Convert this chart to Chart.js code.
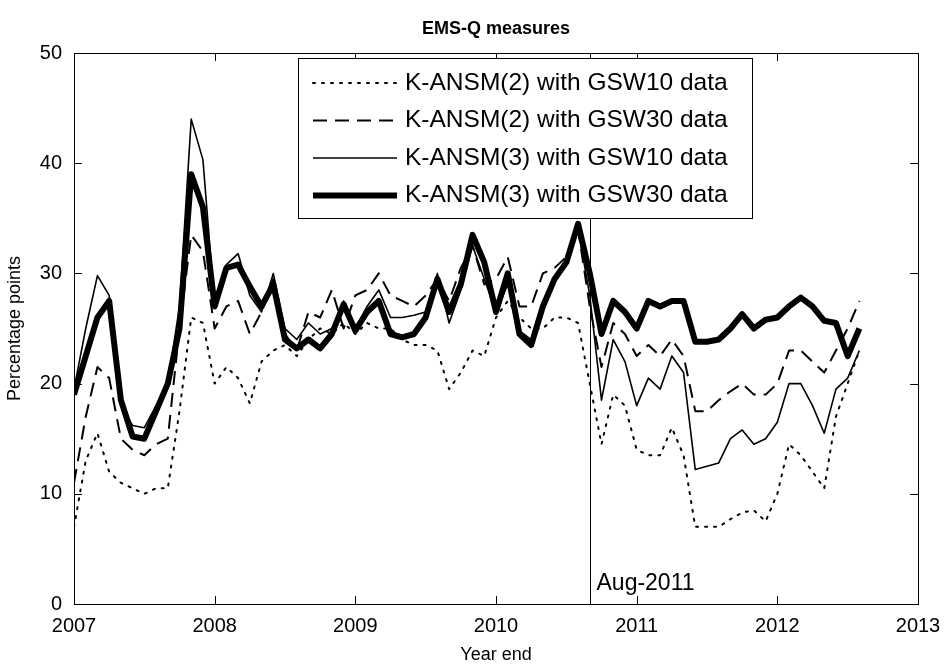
<!DOCTYPE html>
<html>
<head>
<meta charset="utf-8">
<script src="https://cdn.jsdelivr.net/npm/chart.js@4"></script>
<style>body{margin:0;background:#fff}</style>
</head>
<body>
<canvas id="c" width="945" height="670"></canvas>
<script>
// monthly observations, Jan 2007 .. Aug 2012
const startYear = 2007;
const k2gsw10 = [7,13,15.5,12,11,10.5,10,10.5,10.5,17.5,26,25.5,20,21.5,20.5,18.2,22,23,23.5,22.5,24,25,24.5,25.5,24.5,25.5,25,25,24,23.5,23.5,23,19.5,21,23,22.5,26,27.5,26,25,25,26,26,25.5,20,14.5,19,18,14,13.5,13.5,16,13.5,7,7,7,7.7,8.3,8.5,7.5,10,14.5,13.5,12,10.5,17,20,23];
const k2gsw30 = [11,17,21.5,20.5,15,14,13.5,14.5,15,25,33.5,32,25,27,27.5,24.5,26.5,29.5,24.5,23,26.5,26,28.5,25,28,28.5,30,28,27.5,27,28,29.5,27.5,30.5,32.5,29,29.5,31.5,27,27,30,30.5,31.5,34,27,21.5,25.5,24.5,22.5,23.5,22.5,24,22.5,17.5,17.5,18.5,19.3,20,19,19,20,23,23,22,21,23,25,27.5];
const k3gsw10 = [19.5,25,29.8,28,18,16.2,16,18,20,27,44,40.3,27,30.8,31.8,28,26.5,30,25,24,25.5,24.5,25,27.5,25,27,28.5,26,26,26.2,26.5,30,25.5,28.5,32.5,29.5,26.5,29,24.8,24,27.5,29.5,31,34,28,18.5,24,22,18,20.5,19.5,22.5,21,12.2,12.5,12.8,15,15.8,14.5,15,16.5,20,20,18,15.5,19.5,20.5,23];
const k3gsw30 = [19,22.5,26,27.5,18.5,15.2,15,17.5,20,25,39,36,27,30.5,30.8,28.8,27,29,24,23.2,24,23.2,24.5,27.2,24.8,26.5,27.5,24.5,24.2,24.5,26,29.5,26.5,29,33.5,31,26.5,30,24.5,23.5,27,29.5,31,34.5,30,24.5,27.5,26.5,25,27.5,27,27.5,27.5,23.8,23.8,24,25,26.3,25,25.8,26,27,27.8,27,25.7,25.5,22.5,25];
const seriesNames = ['K-ANSM(2) with GSW10 data','K-ANSM(2) with GSW30 data','K-ANSM(3) with GSW10 data','K-ANSM(3) with GSW30 data'];
const markerDate = 2010 + 8/12;
const markerLabel = 'Aug-2011';
const xTicks = [2007,2008,2009,2010,2011,2012,2013];
const yTicks = [0,10,20,30,40,50];

const pts = arr => arr.map((v, i) => ({x: startYear + i / 12, y: v}));
const styles = [
  {borderWidth: 2, borderDash: [2, 7], borderCapStyle: 'round'},
  {borderWidth: 2, borderDash: [14, 8]},
  {borderWidth: 1.6, borderDash: []},
  {borderWidth: 6, borderDash: []}
];
const datasets = [k2gsw10, k2gsw30, k3gsw10, k3gsw30].map((d, i) => Object.assign({
  label: seriesNames[i], data: pts(d), borderColor: '#000', pointRadius: 0, tension: 0, borderJoinStyle: 'round'
}, styles[i]));

const font = 'Liberation Sans, Arial, sans-serif';
const decor = {
  id: 'decor',
  afterDraw(chart) {
    const c = chart.ctx, a = chart.chartArea, xs = chart.scales.x, ys = chart.scales.y;
    c.save();
    c.strokeStyle = '#000'; c.lineWidth = 1;
    c.strokeRect(a.left + 0.5, a.top + 0.5, a.right - a.left, a.bottom - a.top);
    xTicks.forEach(t => { const px = Math.round(xs.getPixelForValue(t)) + 0.5;
      c.beginPath(); c.moveTo(px, a.bottom); c.lineTo(px, a.bottom - 8); c.moveTo(px, a.top); c.lineTo(px, a.top + 8); c.stroke(); });
    yTicks.forEach(t => { const py = Math.round(ys.getPixelForValue(t)) + 0.5;
      c.beginPath(); c.moveTo(a.left, py); c.lineTo(a.left + 8, py); c.moveTo(a.right, py); c.lineTo(a.right - 8, py); c.stroke(); });
    // vertical marker
    const mx = Math.round(xs.getPixelForValue(markerDate)) + 0.5;
    c.beginPath(); c.moveTo(mx, a.top); c.lineTo(mx, a.bottom); c.stroke();
    c.fillStyle = '#000'; c.font = '23px ' + font; c.textAlign = 'left'; c.textBaseline = 'alphabetic';
    c.fillText(markerLabel, mx + 6, a.bottom - 14);
    // title
    c.font = 'bold 18px ' + font; c.textAlign = 'center';
    c.fillText('EMS-Q measures', (a.left + a.right) / 2, 34);
    // legend
    const lx = 298, ly = 58, lw = 454, lh = 160;
    c.fillStyle = '#fff'; c.fillRect(lx, ly, lw, lh);
    c.strokeRect(lx + 0.5, ly + 0.5, lw, lh);
    c.font = '24.5px ' + font; c.textAlign = 'left'; c.textBaseline = 'middle';
    datasets.forEach((d, i) => {
      const yy = ly + 25 + i * 37.5;
      c.lineWidth = d.borderWidth; c.setLineDash(d.borderDash); c.lineCap = d.borderCapStyle || 'butt';
      c.beginPath(); c.moveTo(lx + 15, yy); c.lineTo(lx + 99, yy); c.stroke();
      c.setLineDash([]); c.fillStyle = '#000';
      c.fillText(d.label, lx + 107, yy);
    });
    c.restore();
  }
};

new Chart(document.getElementById('c'), {
  type: 'line',
  data: {datasets},
  options: {
    responsive: false, animation: false, devicePixelRatio: 1,
    layout: {padding: {top: 53, right: 27, left: 0, bottom: 0}},
    plugins: {legend: {display: false}, title: {display: false}, tooltip: {enabled: false}},
    scales: {
      x: {type: 'linear', min: 2007, max: 2013,
        afterFit: s => { s.height = 66; },
        afterBuildTicks: s => { s.ticks = xTicks.map(v => ({value: v})); },
        grid: {display: false}, border: {display: false},
        ticks: {color: '#000', font: {size: 20, family: font}, padding: 2, maxRotation: 0, callback: v => String(v)},
        title: {display: true, text: 'Year end', color: '#000', font: {size: 18, family: font}, padding: {top: 0}}},
      y: {min: 0, max: 50,
        afterFit: s => { s.width = 74; },
        afterBuildTicks: s => { s.ticks = yTicks.map(v => ({value: v})); },
        grid: {display: false}, border: {display: false},
        ticks: {color: '#000', font: {size: 20, family: font}, padding: 4},
        title: {display: true, text: 'Percentage points', color: '#000', font: {size: 18, family: font}, padding: {bottom: 4}}}
    }
  },
  plugins: [decor]
});
</script>
</body>
</html>
